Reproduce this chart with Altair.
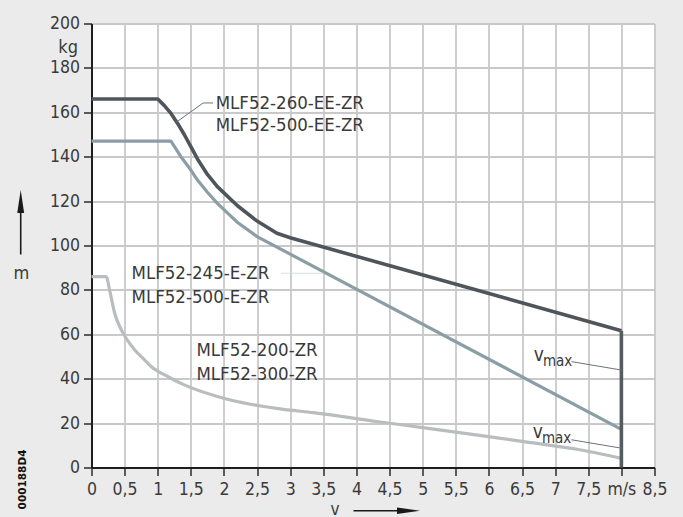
import altair as alt
import pandas as pd

# ---- data ----
dark_v = [0, 1.0, 1.1, 1.2, 1.3, 1.4, 1.5, 1.6, 1.75, 1.9, 2.2, 2.5, 2.8, 3.0, 8.0]
dark_m = [166, 166, 163, 159.5, 155, 150, 144.5, 139, 132, 126.5, 118, 111, 105.5, 103.5, 61.6]
med_v = [0, 1.2, 1.35, 1.5, 1.6, 1.75, 1.9, 2.2, 2.5, 8.0]
med_m = [147, 147, 140, 134, 129.5, 124, 119, 110.5, 104, 17.2]
light_v = [0, 0.22, 0.28, 0.35, 0.45, 0.55, 0.65, 0.8, 0.9, 1.15, 1.4, 1.9, 2.4, 2.9,
           3.35, 4.33, 5.0, 5.83, 6.5, 7.33, 8.0]
light_m = [86, 86, 79, 69.5, 62, 57, 53, 48.5, 45.5, 41, 37.2, 32, 28.5, 26.2,
           24.7, 20.6, 18, 14.6, 11.8, 8.2, 4.1]
vmax_v = [8.0, 8.0]
vmax_m = [0, 61.6]

x_ticks = [i * 0.5 for i in range(18)]
y_ticks = list(range(0, 201, 20))

label_ee = ["MLF52-260-EE-ZR", "MLF52-500-EE-ZR"]
label_e = ["MLF52-245-E-ZR", "MLF52-500-E-ZR"]
label_zr = ["MLF52-200-ZR", "MLF52-300-ZR"]

W, H = 563, 444
FONT = "DejaVu Sans Condensed, Liberation Sans Narrow, Roboto Condensed, DejaVu Sans, sans-serif"
TXT = "#3a3a3a"

xs = alt.Scale(domain=[0, 8.5], nice=False, zero=False)
ys = alt.Scale(domain=[0, 200], nice=False, zero=False)

X_AXIS = alt.Axis(
    values=x_ticks, title=None, grid=True,
    labelExpr="datum.value == 8 ? 'm/s' : replace(toString(datum.value), '.', ',')",
    labelFlush=False, labelOverlap=False, labelPadding=5)
Y_AXIS = alt.Axis(values=y_ticks, title=None, grid=True, labelPadding=4, labelOverlap=False)

XQ = lambda: alt.X("v:Q", scale=xs, axis=X_AXIS)
YQ = lambda: alt.Y("m:Q", scale=ys, axis=Y_AXIS)

def line_layer(v, m, color, width, interp="linear"):
    df = pd.DataFrame({"v": v, "m": m})
    return alt.Chart(df).mark_line(color=color, strokeWidth=width, strokeJoin="round",
                                   interpolate=interp).encode(
        x=XQ(), y=YQ(), order="v:Q")

lines = [
    line_layer(light_v, light_m, "#b9bdbf", 3.2, "monotone"),
    line_layer(med_v, med_m, "#8c9ea5", 3.2),
    line_layer(dark_v, dark_m, "#4e565b", 3.6),
    line_layer(vmax_v, vmax_m, "#555c60", 3.6),
]

def leader(v, m, color="#4e565b", width=1):
    df = pd.DataFrame({"v": v, "m": m})
    return alt.Chart(df).mark_line(color=color, strokeWidth=width).encode(
        x=XQ(), y=YQ(), order="v:Q")

leaders = [
    leader([1.28, 1.685, 1.835], [155.5, 164.2, 164.2], "#6a7378", 1),
    leader([2.86, 3.5], [87.5, 87.5], "#d6dfe2", 1),
    leader([7.245, 8.0], [47.7, 43.9], "#6a7378", 1),
    leader([7.245, 8.0], [12.5, 8.7], "#6a7378", 1),
]

def text_layer(v, m, texts, size=18.5, align="left", color=TXT):
    df = pd.DataFrame({"v": v, "m": m, "t": texts})
    return alt.Chart(df).mark_text(align=align, baseline="middle", font=FONT, fontSize=size,
                                   color=color).encode(
        x=XQ(), y=YQ(), text="t:N")

texts = [
    text_layer([1.875, 1.875], [164.3, 154.3], label_ee),
    text_layer([0.605, 0.605], [87.5, 76.6], label_e),
    text_layer([1.585, 1.585], [52.9, 42.3], label_zr),
    text_layer([6.755, 6.74], [50.7, 16.0], ["v", "v"], size=19, align="center"),
    text_layer([6.815, 6.80], [48.0, 13.2], ["max", "max"], size=15),
]

# decorations outside the plot (pixel positions relative to plot origin)
kg = alt.Chart(pd.DataFrame({"t": ["kg"]})).mark_text(
    align="right", baseline="middle", font=FONT, fontSize=18, color=TXT).encode(
    x=alt.value(-13.5), y=alt.value(24.5), text="t:N")
m_lab = alt.Chart(pd.DataFrame({"t": ["m"]})).mark_text(
    align="center", baseline="middle", font=FONT, fontSize=18, color=TXT).encode(
    x=alt.value(-70), y=alt.value(250), text="t:N")
v_lab = alt.Chart(pd.DataFrame({"t": ["v"]})).mark_text(
    align="center", baseline="middle", font=FONT, fontSize=17, color=TXT).encode(
    x=alt.value(243.5), y=alt.value(486), text="t:N")
code_lab = alt.Chart(pd.DataFrame({"t": ["000188D4"]})).mark_text(
    align="center", baseline="middle", font="DejaVu Sans", fontSize=10.5, fontWeight="bold",
    color="#111111", angle=270).encode(
    x=alt.value(-69), y=alt.value(456), text="t:N")

up_rule = alt.Chart(pd.DataFrame({"a": [0]})).mark_rule(color="#1a1a1a", strokeWidth=1.6).encode(
    x=alt.value(-70.8), y=alt.value(231), y2=alt.value(185))
up_head = alt.Chart(pd.DataFrame({"a": [0]})).mark_point(
    shape="M0,-1L0.3,1L-0.3,1Z", filled=True, size=529, color="#1a1a1a", opacity=1).encode(
    x=alt.value(-70.8), y=alt.value(178))
r_rule = alt.Chart(pd.DataFrame({"a": [0]})).mark_rule(color="#1a1a1a", strokeWidth=1.6).encode(
    x=alt.value(262), x2=alt.value(312), y=alt.value(487.2))
r_head = alt.Chart(pd.DataFrame({"a": [0]})).mark_point(
    shape="M1,0L-1,-0.28L-1,0.28Z", filled=True, size=529, color="#1a1a1a", opacity=1).encode(
    x=alt.value(317), y=alt.value(487.2))

chart = alt.layer(
    *lines, *leaders, *texts, kg, m_lab, v_lab, code_lab, up_rule, up_head, r_rule, r_head
).properties(
    width=W, height=H,
    autosize=alt.AutoSizeParams(type="none"),
    padding={"left": 91.5, "top": 23.5, "right": 28.5, "bottom": 49.5},
    background="#ebebeb",
).configure_view(
    fill="white", stroke=None
).configure_axis(
    gridColor="#c9c9c9", gridWidth=1.8,
    domainColor="#1e1e1e", domainWidth=2,
    tickColor="#1e1e1e", tickWidth=1.4, tickSize=8,
    labelFont=FONT, labelFontSize=17.5, labelColor=TXT,
)

chart.save("out.html", embed_options={"renderer": "svg", "actions": False})
